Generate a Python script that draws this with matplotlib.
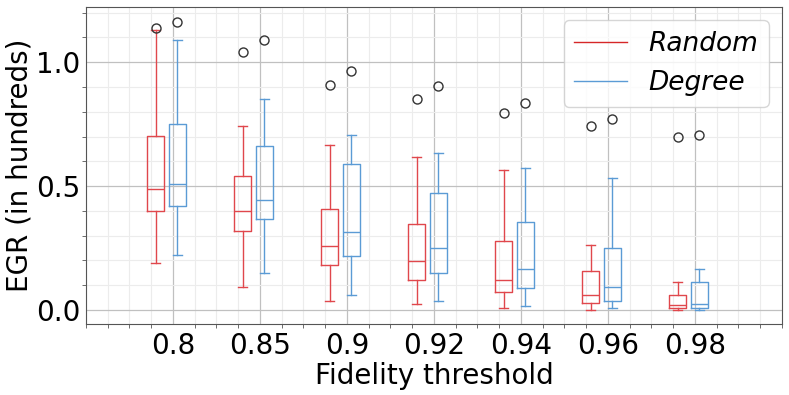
import matplotlib
matplotlib.use("Agg")
import matplotlib.pyplot as plt
from matplotlib.ticker import MultipleLocator

# DATA
thresholds = ["0.8", "0.85", "0.9", "0.92", "0.94", "0.96", "0.98"]

# per threshold: whisker low, q1, median, q3, whisker high, outlier
random_lo = [0.190, 0.093, 0.036, 0.023, 0.008, 0.001, 0.000]
random_q1 = [0.399, 0.320, 0.183, 0.122, 0.074, 0.027, 0.007]
random_med = [0.488, 0.401, 0.257, 0.196, 0.122, 0.059, 0.019]
random_q3 = [0.704, 0.542, 0.406, 0.348, 0.277, 0.159, 0.059]
random_hi = [1.129, 0.743, 0.665, 0.617, 0.563, 0.261, 0.112]
random_out = [1.137, 1.039, 0.906, 0.851, 0.794, 0.741, 0.700]

degree_lo = [0.220, 0.148, 0.059, 0.038, 0.017, 0.007, 0.001]
degree_q1 = [0.421, 0.366, 0.219, 0.148, 0.087, 0.038, 0.009]
degree_med = [0.507, 0.444, 0.313, 0.249, 0.165, 0.091, 0.023]
degree_q3 = [0.749, 0.663, 0.589, 0.474, 0.354, 0.251, 0.113]
degree_hi = [1.091, 0.852, 0.706, 0.634, 0.573, 0.532, 0.164]
degree_out = [1.161, 1.090, 0.965, 0.903, 0.835, 0.769, 0.708]

RED = "#e0474c"
BLUE = "#5b9bd5"


def make_stats(lo, q1, med, q3, hi, out):
    return [dict(whislo=a, q1=b, med=c, q3=d, whishi=e, fliers=[f])
            for a, b, c, d, e, f in zip(lo, q1, med, q3, hi, out)]


def style(bp, color):
    for key in ["boxes", "whiskers", "caps", "medians"]:
        for ln in bp[key]:
            ln.set_color(color)
            ln.set_linewidth(1.0)
    for ln in bp["fliers"]:
        ln.set_markeredgecolor("#333333")
        ln.set_markerfacecolor("none")
        ln.set_markersize(6.5)


fig = plt.figure(figsize=(7.89, 3.95), dpi=100)
ax = fig.add_axes([0.109, 0.180, 0.882, 0.802])

pos = list(range(1, len(thresholds) + 1))
bp_r = ax.bxp(make_stats(random_lo, random_q1, random_med, random_q3, random_hi, random_out),
              positions=[p - 0.2 for p in pos], widths=0.2, manage_ticks=False)
bp_d = ax.bxp(make_stats(degree_lo, degree_q1, degree_med, degree_q3, degree_hi, degree_out),
              positions=[p + 0.05 for p in pos], widths=0.2, manage_ticks=False)
style(bp_r, RED)
style(bp_d, BLUE)

ax.set_xlim(0, 8)
ax.set_ylim(-0.056, 1.222)
ax.set_xticks(pos)
ax.set_xticklabels(thresholds)
ax.xaxis.set_minor_locator(MultipleLocator(0.25))
ax.set_yticks([0.0, 0.5, 1.0])
ax.yaxis.set_minor_locator(MultipleLocator(0.1))

ax.grid(which="major", color="#c0c0c0", linewidth=0.9)
ax.grid(which="minor", color="#ececec", linewidth=0.8)
ax.set_axisbelow(True)
ax.tick_params(which="major", labelsize=20, length=0, pad=6)
ax.tick_params(axis="y", which="major", pad=4)
ax.tick_params(which="minor", length=3, color="#555555")
for sp in ax.spines.values():
    sp.set_color("#555555")

ax.set_xlabel("Fidelity threshold", fontsize=20, labelpad=1)
ax.set_ylabel("EGR (in hundreds)", fontsize=20, labelpad=2)

ax.plot([], [], color="#d62728", lw=1.0, label="Random")
ax.plot([], [], color=BLUE, lw=1.0, label="Degree")
leg = ax.legend(loc="upper right", prop={"size": 19, "style": "italic"},
                framealpha=0.8)

fig.savefig("out.png", dpi=100)
